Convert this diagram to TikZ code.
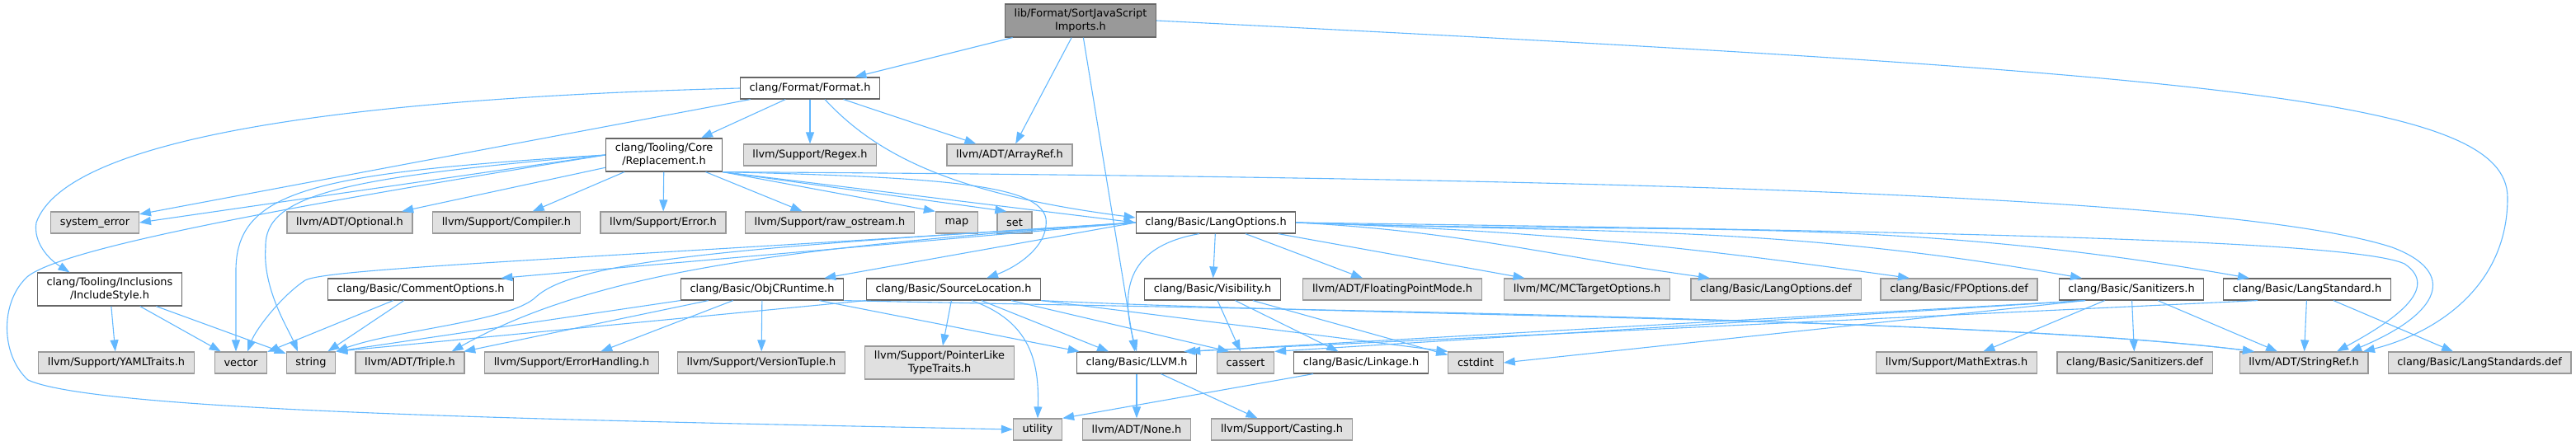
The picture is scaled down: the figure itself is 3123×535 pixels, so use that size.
\documentclass[tikz,border=0pt]{standalone}
\usepackage{fontspec}
\setmainfont{DejaVu Sans}
\usetikzlibrary{arrows.meta}

\definecolor{edgeblue}{HTML}{63B8FF}
\definecolor{extfill}{HTML}{E0E0E0}
\definecolor{extline}{HTML}{999999}
\definecolor{docline}{HTML}{666666}
\definecolor{rootfill}{HTML}{999999}

\begin{document}
\begin{tikzpicture}[
  x=0.5pt, y=-0.5pt,
  font=\fontsize{6.45}{7.75}\selectfont,
  box/.style={draw, line width=0.6pt, align=center, minimum height=13pt, inner xsep=5.6pt, inner ysep=3pt},
  file/.style={box, draw=docline, fill=white},
  ext/.style={box, draw=extline, fill=extfill},
  rootfile/.style={box, draw=docline, fill=rootfill},
  inc/.style={-{Triangle[length=7pt,width=5pt]}, draw=edgeblue, line width=0.55pt}
]
\useasboundingbox (0,0) rectangle (3123,535);

% top rows
\node[rootfile] (root) at (1310,25) {lib/Format/SortJavaScript\\Imports.h};
\node[file] (format) at (982,107) {clang/Format/Format.h};
\node[file] (replacement) at (805,188) {clang/Tooling/Core\\/Replacement.h};
\node[ext] (regex) at (982,188) {llvm/Support/Regex.h};
\node[ext] (arrayref) at (1224,188) {llvm/ADT/ArrayRef.h};

% row 3
\node[ext] (syserr) at (115,270) {system\_error};
\node[ext] (optional) at (424,270) {llvm/ADT/Optional.h};
\node[ext] (compiler) at (614,270) {llvm/Support/Compiler.h};
\node[ext] (error) at (804,270) {llvm/Support/Error.h};
\node[ext] (rawostream) at (1006,270) {llvm/Support/raw\_ostream.h};
\node[ext] (map) at (1160,270) {map};
\node[ext] (set) at (1230,270) {set};
\node[file] (langopts) at (1474,270) {clang/Basic/LangOptions.h};

% row 4
\node[file] (incstyle) at (133,351) {clang/Tooling/Inclusions\\/IncludeStyle.h};
\node[file] (commentopts) at (510,351) {clang/Basic/CommentOptions.h};
\node[file] (objc) at (924,351) {clang/Basic/ObjCRuntime.h};
\node[file] (srcloc) at (1156,351) {clang/Basic/SourceLocation.h};
\node[file] (visibility) at (1470,351) {clang/Basic/Visibility.h};
\node[ext] (fpmode) at (1688,351) {llvm/ADT/FloatingPointMode.h};
\node[ext] (mctarget) at (1924,351) {llvm/MC/MCTargetOptions.h};
\node[ext] (langoptsdef) at (2153,351) {clang/Basic/LangOptions.def};
\node[ext] (fpoptsdef) at (2375,351) {clang/Basic/FPOptions.def};
\node[file] (sanitizers) at (2584,351) {clang/Basic/Sanitizers.h};
\node[file] (langstd) at (2797,351) {clang/Basic/LangStandard.h};

% row 5
\node[ext] (yaml) at (141,440) {llvm/Support/YAMLTraits.h};
\node[ext] (vector) at (292,440) {vector};
\node[ext] (string) at (377,440) {string};
\node[ext] (triple) at (497,440) {llvm/ADT/Triple.h};
\node[ext] (errhandling) at (693,440) {llvm/Support/ErrorHandling.h};
\node[ext] (versiontuple) at (923,440) {llvm/Support/VersionTuple.h};
\node[ext] (pointerlike) at (1139,440) {llvm/Support/PointerLike\\TypeTraits.h};
\node[file] (llvmh) at (1378,440) {clang/Basic/LLVM.h};
\node[ext] (cassert) at (1510,440) {cassert};
\node[file] (linkage) at (1650,440) {clang/Basic/Linkage.h};
\node[ext] (cstdint) at (1789,440) {cstdint};
\node[ext] (mathextras) at (2372,440) {llvm/Support/MathExtras.h};
\node[ext] (sandef) at (2588,440) {clang/Basic/Sanitizers.def};
\node[ext] (stringref) at (2793,440) {llvm/ADT/StringRef.h};
\node[ext] (langstddef) at (3006,440) {clang/Basic/LangStandards.def};

% bottom row
\node[ext] (utility) at (1258,521) {utility};
\node[ext] (none) at (1378,521) {llvm/ADT/None.h};
\node[ext] (casting) at (1554,521) {llvm/Support/Casting.h};

% root
\draw[inc] (root) -- (format);
\draw[inc] (root) -- (arrayref);
\draw[inc] (root) -- (llvmh);
\draw[inc] (root.east) .. controls (2700,90) and (3040,120) .. (3040,240)
  .. controls (3040,350) and (2950,405) .. ([xshift=36pt]stringref.north);

% Format.h
\draw[inc] (format.west) .. controls (400,120) and (80,170) .. (44,270)
  .. controls (40,295) and (60,315) .. (incstyle.157);
\draw[inc] (format) -- (syserr);
\draw[inc] (format) -- (replacement);
\draw[inc] (format) -- (regex);
\draw[inc] (format) -- (arrayref);
\draw[inc] ([xshift=9pt]format.south) .. controls (1060,185) and (1150,235) .. ([yshift=3pt]langopts.west);

% IncludeStyle.h
\draw[inc] (incstyle) -- (yaml);
\draw[inc] (incstyle) -- (vector);
\draw[inc] (incstyle) -- (string);

% Replacement.h
\draw[inc] (replacement.south east) -- (langopts.west);
\draw[inc] (replacement.south east) .. controls (1150,215) and (1260,225) .. (1268,265)
  .. controls (1272,300) and (1230,325) .. ([xshift=20pt]srcloc.north);
\draw[inc] (replacement) -- (optional);
\draw[inc] (replacement.south east) .. controls (1900,215) and (2700,235) .. (2900,300)
  .. controls (2980,330) and (2960,380) .. ([xshift=28pt]stringref.north);
\draw[inc] (replacement) -- (compiler);
\draw[inc] (replacement) -- (error);
\draw[inc] (replacement) -- (rawostream);
\draw[inc] (replacement.south east) -- (map.north west);
\draw[inc] (replacement.south east) -- ([xshift=6pt]set.north west);
\draw[inc] (replacement.west) .. controls (420,215) and (320,235) .. (322,300)
  .. controls (318,350) and (350,400) .. ([xshift=-8pt]string.north);
\draw[inc] (replacement.west) -- (syserr.east);
\draw[inc] (replacement.west) .. controls (350,250) and (80,300) .. (34,335)
  .. controls (0,365) and (0,430) .. (34,461)
  .. controls (120,500) and (700,510) .. (utility.west);
\draw[inc] (replacement.west) .. controls (380,210) and (285,230) .. (286,330)
  -- ([xshift=-3pt]vector.north);

% LangOptions.h
\draw[inc] (langopts.west) -- ([xshift=-8pt]commentopts.north east);
\draw[inc] ([xshift=-10pt]langopts.south) .. controls (1360,300) and (1360,360) .. (llvmh.north);
\draw[inc] (langopts.east) to[out=-2,in=170] ([xshift=-35pt]langstd.north);
\draw[inc] (langopts.west) -- ([xshift=-12pt]objc.north east);
\draw[inc] (langopts.east) to[out=-2,in=170] ([xshift=-30pt]sanitizers.north);
\draw[inc] (langopts) -- (visibility);
\draw[inc] (langopts) -- (fpmode);
\draw[inc] (langopts.east) .. controls (2300,280) and (2850,290) .. (2915,320)
  .. controls (2960,350) and (2900,390) .. ([xshift=20pt]stringref.north);
\draw[inc] (langopts.west) .. controls (950,300) and (720,330) .. ([xshift=-8pt]triple.north east);
\draw[inc] (langopts) -- (mctarget);
\draw[inc] (langopts.west) .. controls (900,300) and (700,315) .. (650,360)
  .. controls (620,390) and (480,400) .. (string.north east);
\draw[inc] (langopts.west) .. controls (700,315) and (400,325) .. (370,340)
  .. controls (340,360) and (310,400) .. ([xshift=4pt]vector.north);
\draw[inc] (langopts.east) to[out=-3,in=172] ([xshift=-40pt]langoptsdef.north);
\draw[inc] (langopts.east) to[out=-2,in=172] ([xshift=-30pt]fpoptsdef.north);

% CommentOptions.h
\draw[inc] (commentopts) -- (string);
\draw[inc] (commentopts) -- (vector);

% ObjCRuntime.h
\draw[inc] (objc) -- (llvmh);
\draw[inc] (objc.south east) .. controls (1500,375) and (2400,385) .. ([xshift=-30pt]stringref.north);
\draw[inc] (objc) -- (triple);
\draw[inc] (objc) -- (errhandling);
\draw[inc] (objc) -- (versiontuple);
\draw[inc] (objc.south west) -- (string.north east);

% SourceLocation.h
\draw[inc] (srcloc) -- (llvmh);
\draw[inc] (srcloc.south east) .. controls (1700,385) and (2400,385) .. ([xshift=-30pt]stringref.north);
\draw[inc] (srcloc) -- (pointerlike);
\draw[inc] ([xshift=35pt]srcloc.south) -- ([xshift=-10pt]cassert.north);
\draw[inc] (srcloc.south east) -- (cstdint.north west);
\draw[inc] (srcloc.south west) -- (string.north east);
\draw[inc] ([xshift=11pt]srcloc.south) .. controls (1250,390) and (1260,440) .. (utility.north);

% Visibility.h
\draw[inc] (visibility) -- (linkage);
\draw[inc] (visibility) -- (cassert);
\draw[inc] (visibility) -- (cstdint);

% Linkage.h, LLVM.h
\draw[inc] ([xshift=12pt]linkage.south west) -- (utility.north east);
\draw[inc] (llvmh) -- (none);
\draw[inc] (llvmh) -- (casting);

% Sanitizers.h
\draw[inc] ([xshift=-28pt]sanitizers.south) -- ([xshift=-5pt]llvmh.north east);
\draw[inc] (sanitizers) -- (stringref);
\draw[inc] (sanitizers) -- (mathextras);
\draw[inc] ([xshift=-28pt]sanitizers.south) -- (cassert.north east);
\draw[inc] ([xshift=-28pt]sanitizers.south) -- (cstdint.east);
\draw[inc] (sanitizers) -- (sandef);

% LangStandard.h
\draw[inc] ([xshift=-30pt]langstd.south) -- ([xshift=-8pt]llvmh.north east);
\draw[inc] (langstd) -- (stringref);
\draw[inc] (langstd) -- (langstddef);
\end{tikzpicture}
\end{document}
